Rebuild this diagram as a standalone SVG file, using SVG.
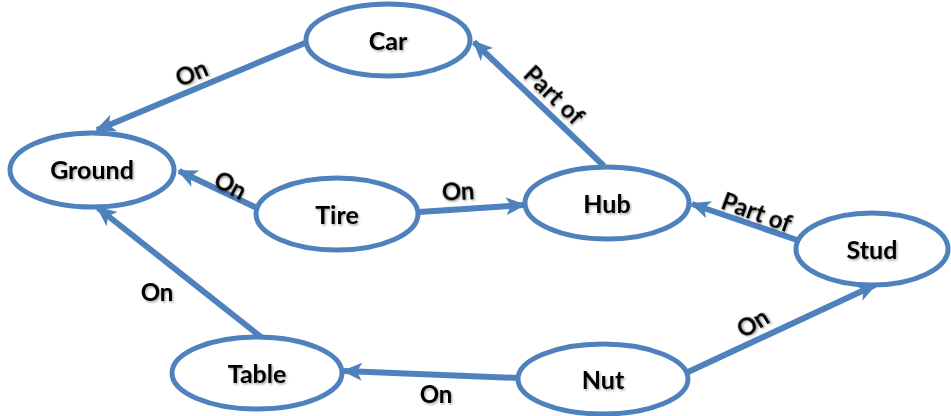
<svg xmlns="http://www.w3.org/2000/svg" width="951" height="416" viewBox="0 0 951 416">
  <defs>
    <marker id="arrow" viewBox="0 0 20 20" refX="18" refY="10" markerWidth="20" markerHeight="20" markerUnits="userSpaceOnUse" orient="auto">
      <path d="M0,1 L20,10 L0,19 L5,10 Z" fill="#4f81bd"/>
    </marker>
    <filter id="shadow" x="-20%" y="-20%" width="140%" height="160%">
      <feDropShadow dx="1.2" dy="1.5" stdDeviation="0.8" flood-color="#000" flood-opacity="0.35"/>
    </filter>
  </defs>
  <style>
    .node ellipse { fill: #ffffff; stroke: #4f81bd; stroke-width: 5; }
    .node text { font-family: Lato, "Liberation Sans", sans-serif; font-weight: 700; font-size: 25px; fill: #000; text-anchor: middle; dominant-baseline: central; filter: url(#shadow); }
    .edge { stroke: #4f81bd; stroke-width: 6; fill: none; marker-end: url(#arrow); }
    .label { font-family: Lato, "Liberation Sans", sans-serif; font-weight: 700; font-size: 24px; fill: #000; text-anchor: middle; dominant-baseline: central; filter: url(#shadow); }
  </style>
  <rect width="951" height="416" fill="#ffffff"/>

  <g id="connectors">
    <!-- Car on Ground -->
    <line class="edge" x1="305" y1="43" x2="97" y2="130"/>
    <text class="label" transform="translate(191,72) rotate(-23)">On</text>
    <!-- Hub part of Car -->
    <line class="edge" x1="604" y1="166" x2="474" y2="42"/>
    <text class="label" transform="translate(555,94) rotate(44)">Part of</text>
    <!-- Tire on Ground -->
    <line class="edge" x1="257" y1="208" x2="179" y2="171"/>
    <text class="label" transform="translate(231,184) rotate(28)">On</text>
    <!-- Tire on Hub -->
    <line class="edge" x1="419" y1="212" x2="524" y2="205"/>
    <text class="label" transform="translate(458,190) rotate(-3)">On</text>
    <!-- Stud part of Hub -->
    <line class="edge" x1="797" y1="240" x2="692" y2="204"/>
    <text class="label" transform="translate(757,211) rotate(20)">Part of</text>
    <!-- Table on Ground -->
    <line class="edge" x1="261" y1="337" x2="98" y2="208"/>
    <text class="label" x="157" y="291">On</text>
    <!-- Nut on Table -->
    <line class="edge" x1="519" y1="378" x2="344" y2="371"/>
    <text class="label" x="436" y="393">On</text>
    <!-- Nut on Stud -->
    <line class="edge" x1="688" y1="372" x2="875" y2="285"/>
    <text class="label" transform="translate(752,322) rotate(-32)">On</text>
  </g>

  <g id="node-car" class="node">
    <ellipse cx="388" cy="40" rx="82" ry="36"/>
    <text x="388" y="40">Car</text>
  </g>
  <g id="node-ground" class="node">
    <ellipse cx="92" cy="170" rx="82" ry="37"/>
    <text x="92" y="169">Ground</text>
  </g>
  <g id="node-tire" class="node">
    <ellipse cx="337" cy="214" rx="81" ry="36"/>
    <text x="337" y="214">Tire</text>
  </g>
  <g id="node-hub" class="node">
    <ellipse cx="607" cy="203" rx="82" ry="36"/>
    <text x="607" y="203">Hub</text>
  </g>
  <g id="node-stud" class="node">
    <ellipse cx="872" cy="249" rx="76" ry="36"/>
    <text x="872" y="249">Stud</text>
  </g>
  <g id="node-table" class="node">
    <ellipse cx="257" cy="373" rx="85" ry="36"/>
    <text x="257" y="373">Table</text>
  </g>
  <g id="node-nut" class="node">
    <ellipse cx="603" cy="379" rx="85" ry="35"/>
    <text x="603" y="379">Nut</text>
  </g>
</svg>
